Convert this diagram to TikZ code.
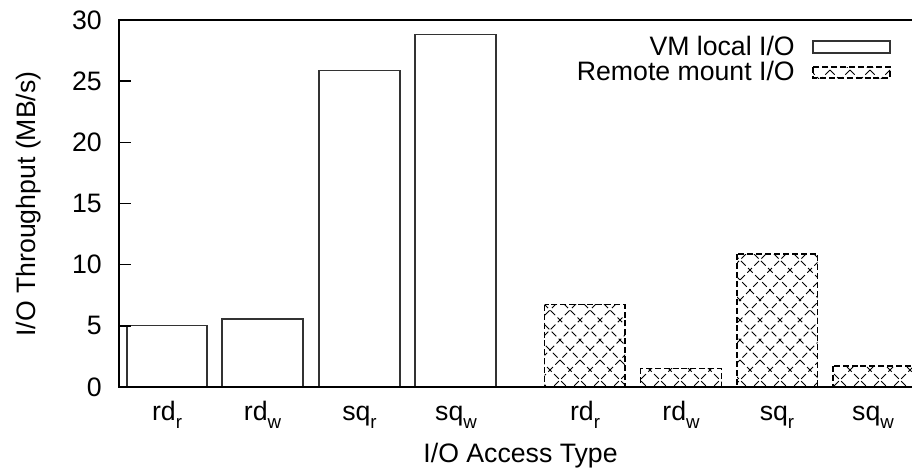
\documentclass[tikz,border=0pt]{standalone}
\usepackage{fontspec}
\setmainfont{Liberation Sans}
% subscript used in the category labels
\newcommand\lowidx[1]{\raisebox{-0.3em}{\fontsize{14}{15}\selectfont #1}}
% dashed diagonal cross-hatch filling the current clip region
\newcommand\crosshatch{%
  \foreach \c in {100,120,...,1400} {
    \draw[hatchline] (\c-400,400) -- (\c+20,-20);
    \draw[hatchline] (\c+400,400) -- (\c-20,-20);
  }%
}
% a cross-hatched bar: left x, right x, top y
\newcommand\hatchedbar[3]{%
  \begin{scope}
    \clip (#1,#3) rectangle (#2,387);
    \crosshatch
  \end{scope}
  \draw[hatchbar] (#1,#3) rectangle (#2,387);
}
\begin{document}
\begin{tikzpicture}[x=0.75pt,y=-0.75pt,
  frame/.style={line width=1.1pt},
  plainbar/.style={draw=black!80, line width=0.8pt, fill=white},
  hatchbar/.style={draw=black, line width=0.8pt, dash pattern=on 4.5pt off 2.2pt},
  hatchline/.style={draw=black, line width=0.7pt, dash pattern=on 5pt off 2.5pt},
  lbl/.style={font=\fontsize{20}{24}\selectfont, inner sep=0pt},
  legtext/.style={lbl, anchor=base east, text height=1.5ex, text depth=0pt}]
\useasboundingbox (0,0) rectangle (912,468);

% VM local I/O bars
\draw[plainbar] (127,{387-12.233*5.0})  rectangle (207,387);
\draw[plainbar] (222,{387-12.233*5.56}) rectangle (303,387);
\draw[plainbar] (319,{387-12.233*25.9}) rectangle (400,387);
\draw[plainbar] (415,{387-12.233*28.8}) rectangle (496,387);

% remote mount I/O bars
\hatchedbar{544.5}{625}{304.7}
\hatchedbar{640.7}{721.3}{368.3}
\hatchedbar{737}{817.5}{254}
\hatchedbar{833}{913.6}{366}

% axes frame and y ticks
\draw[frame] (912,20) -- (119,20) -- (119,387) -- (912,387);
\foreach \v in {5,10,...,25}
  \draw[frame] (119,{387-12.233*\v}) -- (131,{387-12.233*\v});

% y tick labels
\foreach \v in {0,5,...,30}
  \node[lbl, anchor=east] (yt\v) at (102,{387-12.233*\v}) {\v};

% category labels
\node[lbl, anchor=base] (c1) at (167,420)   {rd\lowidx{r}};
\node[lbl, anchor=base] (c2) at (262.5,420) {rd\lowidx{w}};
\node[lbl, anchor=base] (c3) at (359.5,420) {sq\lowidx{r}};
\node[lbl, anchor=base] (c4) at (456,420)   {sq\lowidx{w}};
\node[lbl, anchor=base] (c5) at (585,420)   {rd\lowidx{r}};
\node[lbl, anchor=base] (c6) at (681,420)   {rd\lowidx{w}};
\node[lbl, anchor=base] (c7) at (777,420)   {sq\lowidx{r}};
\node[lbl, anchor=base] (c8) at (873,420)   {sq\lowidx{w}};

% axis titles
\node[lbl, anchor=base] (xtitle) at (520.5,462.5) {I/O Access Type};
\node[lbl, rotate=90, anchor=base] (ytitle) at (35,204) {I/O Throughput (MB/s)};

% legend
\node[legtext] (leg1) at (795,55.7) {VM local I/O};
\node[legtext] (leg2) at (795,80) {Remote mount I/O};
\draw[plainbar] (813,41) rectangle (890,53);
\begin{scope}
  \clip (813,67) rectangle (890,78);
  \crosshatch
\end{scope}
\draw[hatchbar] (813,67) rectangle (890,78);
\end{tikzpicture}
\end{document}
